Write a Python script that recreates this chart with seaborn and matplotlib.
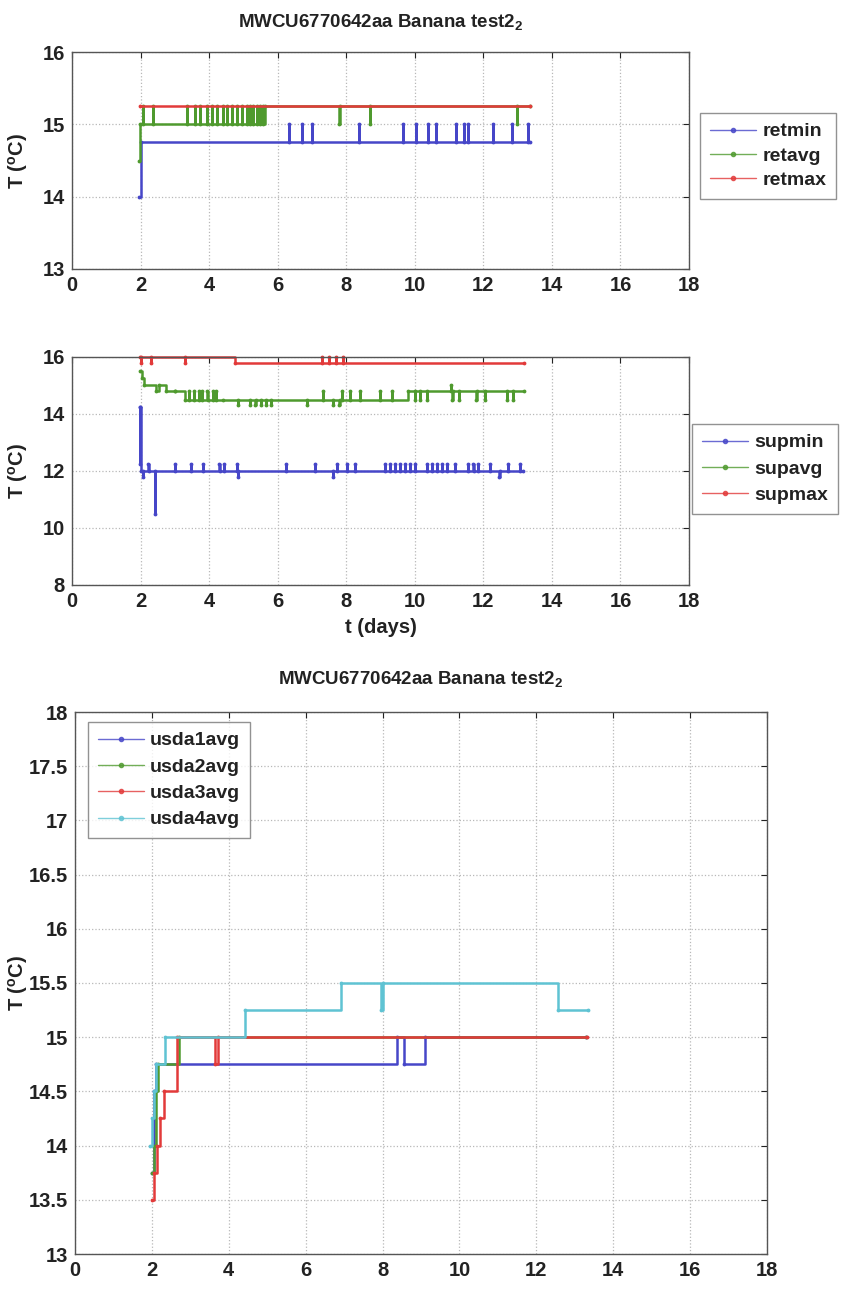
import numpy as np
import pandas as pd
import matplotlib
matplotlib.use("Agg")
import matplotlib.pyplot as plt
from matplotlib.lines import Line2D
import seaborn as sns

sns.set_theme(style="white")
plt.rcParams['font.family'] = ['Liberation Sans', 'DejaVu Sans']
plt.rcParams['font.weight'] = 'bold'
plt.rcParams['mathtext.default'] = 'regular'

# ---------------- data ----------------
TITLE = "MWCU6770642aa Banana test2$_2$"
xticks = [0, 2, 4, 6, 8, 10, 12, 14, 16, 18]

# panel 1 : return air
retmin_t = [1.96, 2.0, 13.35]
retmin_v = [14.0, 14.75, 14.75]
retmin_up = [6.33, 6.71, 7.0, 8.37, 9.66, 10.03, 10.38, 10.62, 11.2, 11.43, 11.55, 12.28, 12.84, 13.3]
retmin_up_level = 15.0

retavg_t = [1.95, 1.97, 5.62, 13.35]
retavg_v = [14.5, 15.0, 15.25, 15.25]
retavg_up = [2.08, 2.35, 3.35, 3.59, 3.73, 3.93, 4.07, 4.22, 4.40, 4.51, 4.66, 4.80, 4.95, 5.10, 5.19, 5.29, 5.39, 5.48, 5.58]
retavg_up_level = 15.25
retavg_dn = [7.8, 8.69, 12.99]
retavg_dn_level = 15.0

retmax_t = [1.97, 13.35]
retmax_v = [15.25, 15.25]

# panel 2 : supply air
supmin_t = [1.97, 2.0, 13.15]
supmin_v = [14.25, 12.0, 12.0]
supmin_up = [1.98, 2.23, 3.0, 3.47, 3.81, 4.3, 4.43, 4.8, 6.24, 7.09, 7.72, 8.01, 8.26, 9.13, 9.28,
             9.42, 9.57, 9.71, 9.86, 10.0, 10.35, 10.49, 10.64, 10.78, 10.93, 11.17, 11.56, 11.71,
             11.85, 12.19, 12.73, 13.07]
supmin_up_level = 12.25
supmin_dn = [2.08, 4.85, 7.62, 12.47]
supmin_dn_level = 11.8
supmin_deep = [2.42]
supmin_deep_level = 10.5

supavg_t = [1.97, 2.03, 2.1, 2.45, 2.55, 2.75, 3.3, 4.4, 9.8, 13.2]
supavg_v = [15.5, 15.25, 15.0, 14.8, 15.0, 14.8, 14.5, 14.5, 14.8, 14.8]
supavg_up = [3.0, 3.4, 3.55, 3.7, 3.8, 3.95, 4.1, 4.2, 7.33, 7.87, 8.1, 8.4, 8.98, 9.33]
supavg_up_level = 14.8
supavg_dn = [4.85, 5.2, 5.35, 5.5, 5.65, 5.8, 6.85, 7.6, 7.8]
supavg_dn_level = 14.3
supavg_dn2 = [10.0, 10.15, 10.35, 11.1, 11.3, 11.8, 12.05, 12.7, 12.87]
supavg_dn2_level = 14.5
supavg_hi = [11.05]
supavg_hi_level = 15.0

supmax_t = [1.97, 4.75, 13.2]
supmax_v = [16.0, 15.8, 15.8]
supmax_up = [7.3, 7.5, 7.7, 7.9]
supmax_up_level = 16.0
supmax_dn = [2.0, 2.3, 3.3]
supmax_dn_level = 15.8

# panel 3 : USDA probes
usda1_t = [2.0, 2.05, 2.1, 8.37, 8.55, 9.1, 13.3]
usda1_v = [13.75, 14.5, 14.75, 15.0, 14.75, 15.0, 15.0]
usda2_t = [2.0, 2.05, 2.1, 2.15, 2.7, 13.3]
usda2_v = [13.75, 14.0, 14.5, 14.75, 15.0, 15.0]
usda3_t = [2.0, 2.06, 2.12, 2.2, 2.32, 2.66, 3.65, 3.72, 13.32]
usda3_v = [13.5, 13.75, 14.0, 14.25, 14.5, 15.0, 14.75, 15.0, 15.0]
usda4_t = [1.95, 2.0, 2.05, 2.1, 2.34, 4.42, 6.91, 7.95, 8.02, 12.57, 13.35]
usda4_v = [14.0, 14.25, 14.5, 14.75, 15.0, 15.25, 15.5, 15.25, 15.5, 15.25, 15.25]

C_BLUE = "#4646c8"
C_GREEN = "#4f9a2e"
C_RED = "#e23a3a"
C_CYAN = "#5fc3d3"

FS_TICK = 14.5
FS_LAB = 14.5
FS_LEG = 14
FS_TITLE = 13.5


def build(name, bt, bv, spikes=(), width=0.004):
    bt = np.asarray(bt, float)
    bv = np.asarray(bv, float)
    pts = list(zip(bt, bv))
    for times, lvl in spikes:
        for t in times:
            i = max(np.searchsorted(bt, t, side='right') - 1, 0)
            pts.append((t, lvl))
            pts.append((t + width, bv[i]))
    pts.sort(key=lambda p: p[0])
    df = pd.DataFrame(pts, columns=["t", "T"])
    df["series"] = name
    return df


def draw(ax, frames, colors):
    df = pd.concat(frames, ignore_index=True)
    names = [f["series"].iloc[0] for f in frames]
    sns.lineplot(data=df, x="t", y="T", hue="series", hue_order=names,
                 palette=dict(zip(names, colors)), estimator=None, sort=False,
                 drawstyle="steps-post", marker=".", markersize=5.5,
                 markeredgewidth=0, linewidth=1.8, legend=False, ax=ax)
    for ln in ax.get_lines():
        ln.set_clip_on(False)
    return names


def style(ax, ylim, yticks, yticklabels=None):
    ax.set_xlim(0, 18)
    ax.set_ylim(*ylim)
    ax.set_xticks(xticks)
    ax.set_yticks(yticks)
    if yticklabels is not None:
        ax.set_yticklabels(yticklabels)
    ax.tick_params(direction="in", top=True, right=True, length=4, width=0.8,
                   labelsize=FS_TICK, colors="#222222", pad=5)
    for lbl in ax.get_xticklabels() + ax.get_yticklabels():
        lbl.set_fontweight("bold")
    ax.grid(True, linestyle=":", color="#b8b8b8", linewidth=0.9)
    for s in ax.spines.values():
        s.set_color("#555555")
        s.set_linewidth(1.0)
    ax.set_ylabel("T ($^{o}$C)", fontsize=FS_LAB, fontweight="bold", color="#222222")
    ax.set_xlabel("")


def legend(ax, names, colors, anchor, transform, spacing=0.3):
    handles = [Line2D([0], [0], color=c, lw=1.0, marker=".", markersize=6, alpha=0.8)
               for c in colors]
    leg = ax.legend(handles, names, loc="upper left", bbox_to_anchor=anchor,
                    bbox_transform=transform, frameon=True, fancybox=False,
                    prop={"size": FS_LEG, "weight": "bold"}, handlelength=2.4,
                    handletextpad=0.3, labelspacing=spacing, borderpad=0.5,
                    borderaxespad=0)
    leg.get_frame().set_edgecolor("#777777")
    leg.get_frame().set_linewidth(1.0)
    for t in leg.get_texts():
        t.set_color("#222222")
    return leg


W, H = 841, 1290
fig = plt.figure(figsize=(W / 100, H / 100), dpi=100)

# ---- panel 1
ax1 = fig.add_axes([72 / W, 1 - 269 / H, 617 / W, 217 / H])
f1 = [build("retmin", retmin_t, retmin_v, [(retmin_up, retmin_up_level)]),
      build("retavg", retavg_t, retavg_v, [(retavg_up, retavg_up_level), (retavg_dn, retavg_dn_level)]),
      build("retmax", retmax_t, retmax_v)]
cols1 = [C_BLUE, C_GREEN, C_RED]
n1 = draw(ax1, f1, cols1)
style(ax1, (13, 16), [13, 14, 15, 16])
ax1.set_title(TITLE, fontsize=FS_TITLE, fontweight="bold", pad=18, color="#222222")
ax1.yaxis.set_label_coords(-0.068, 0.5)
legend(ax1, n1, cols1, (700 / W, 1 - 113 / H), fig.transFigure, spacing=0.35)

# ---- panel 2
ax2 = fig.add_axes([72 / W, 1 - 585 / H, 617 / W, 228 / H])
f2 = [build("supmin", supmin_t, supmin_v, [(supmin_up, supmin_up_level), (supmin_dn, supmin_dn_level),
                                            (supmin_deep, supmin_deep_level)]),
      build("supavg", supavg_t, supavg_v, [(supavg_up, supavg_up_level), (supavg_dn, supavg_dn_level),
                                            (supavg_dn2, supavg_dn2_level), (supavg_hi, supavg_hi_level)]),
      build("supmax", supmax_t, supmax_v, [(supmax_up, supmax_up_level), (supmax_dn, supmax_dn_level)])]
cols2 = [C_BLUE, C_GREEN, C_RED]
n2 = draw(ax2, f2, cols2)
style(ax2, (8, 16), [8, 10, 12, 14, 16])
ax2.set_xlabel("t (days)", fontsize=FS_LAB, fontweight="bold", color="#222222", labelpad=5)
ax2.yaxis.set_label_coords(-0.068, 0.5)
legend(ax2, n2, cols2, (692 / W, 1 - 424 / H), fig.transFigure, spacing=0.45)

# ---- panel 3
ax3 = fig.add_axes([75 / W, 1 - 1254 / H, 692 / W, 542 / H])
f3 = [build("usda1avg", usda1_t, usda1_v),
      build("usda2avg", usda2_t, usda2_v),
      build("usda3avg", usda3_t, usda3_v),
      build("usda4avg", usda4_t, usda4_v)]
cols3 = [C_BLUE, C_GREEN, C_RED, C_CYAN]
n3 = draw(ax3, f3, cols3)
yt3 = [13, 13.5, 14, 14.5, 15, 15.5, 16, 16.5, 17, 17.5, 18]
style(ax3, (13, 18), yt3, ["13", "13.5", "14", "14.5", "15", "15.5", "16", "16.5", "17", "17.5", "18"])
ax3.set_title(TITLE, fontsize=FS_TITLE, fontweight="bold", pad=20, color="#222222")
ax3.yaxis.set_label_coords(-0.065, 0.5)
legend(ax3, n3, cols3, (88 / W, 1 - 722 / H), fig.transFigure, spacing=0.45)

fig.savefig("out.png", dpi=100)
